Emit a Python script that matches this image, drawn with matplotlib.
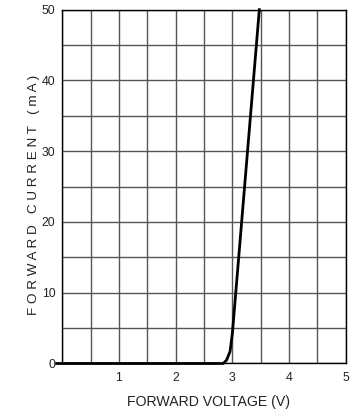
import numpy as np
import matplotlib
matplotlib.use('Agg')
import matplotlib.pyplot as plt

# forward voltage (V) vs forward current (mA)
voltage = [-0.1, 2.84, 2.90, 2.96, 3.00, 3.476]
current = [0.0, 0.0, 0.5, 1.7, 4.2, 50.0]

x_ticks = [1, 2, 3, 4, 5]
y_ticks = [0, 10, 20, 30, 40, 50]

plt.rcParams['font.family'] = ['Liberation Sans', 'DejaVu Sans']

fig = plt.figure(figsize=(3.53, 4.18), dpi=100)
ax = fig.add_axes([0.1765, 0.1304, 0.8028, 0.8464])

ax.set_xlim(0, 5)
ax.set_ylim(0, 50)
ax.set_xticks(x_ticks)
ax.set_xticks(np.arange(0, 5.01, 0.5), minor=True)
ax.set_yticks(y_ticks)
ax.set_yticks(np.arange(0, 50.1, 5), minor=True)
ax.tick_params(which='both', length=0, labelsize=8.8, colors='#222222')
ax.tick_params(axis='x', pad=6)
ax.tick_params(axis='y', pad=5)
ax.grid(True, which='both', color='#555555', lw=1)
ax.set_axisbelow(True)
for s in ax.spines.values():
    s.set_color('black')
    s.set_linewidth(1)

ax.plot(voltage, current, color='black', lw=2, clip_on=False, zorder=5,
        solid_joinstyle='round')

fig.text(0.592, 0.038, 'FORWARD VOLTAGE (V)', ha='center', va='center',
         fontsize=10.2, color='#222222')
fig.text(0.096, 0.533, 'F O R W A R D   C U R R E N T   ( m A )',
         rotation=90, ha='center', va='center', fontsize=9.7, color='#222222')

fig.savefig('out.png', dpi=100)
